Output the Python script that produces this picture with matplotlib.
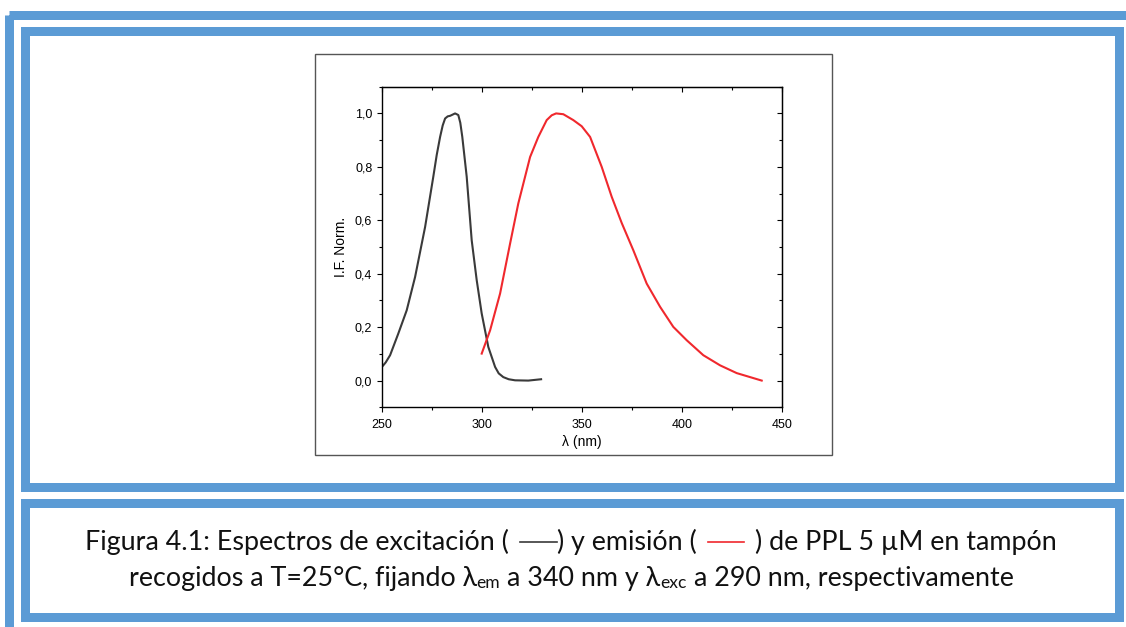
import matplotlib
matplotlib.use('Agg')
import matplotlib.pyplot as plt
from matplotlib import ticker
from matplotlib.patches import Rectangle

# espectro de excitación (negro)
exc_nm = [250, 252, 254.2, 258.3, 262.5, 266.7, 271.7, 275.8, 277.5, 279.2, 280.5,
          281.7, 283, 284.2, 286.7, 288.3, 289.3, 290.3, 292.5, 295, 297.5, 300,
          303.3, 306.7, 308.5, 310.8, 313.5, 316.7, 323.3, 329.7]
exc_if = [0.05, 0.068, 0.095, 0.176, 0.263, 0.388, 0.575, 0.763, 0.844, 0.912, 0.955,
          0.981, 0.989, 0.991, 1.0, 0.994, 0.965, 0.912, 0.763, 0.525, 0.376, 0.251,
          0.126, 0.051, 0.027, 0.013, 0.005, 0.001, 0.0, 0.005]
# espectro de emisión (rojo)
emi_nm = [300, 304.2, 309.2, 314.2, 318.3, 324.2, 328.3, 332.5, 335, 337.2,
          340.8, 345.8, 350, 354.2, 360, 365, 370, 375.8, 382.5, 389.2,
          395.8, 402.5, 410.8, 419.2, 427.5, 440]
emi_if = [0.101, 0.188, 0.326, 0.513, 0.663, 0.837, 0.912, 0.975, 0.993, 1.0,
          0.997, 0.975, 0.952, 0.912, 0.8, 0.688, 0.59, 0.488, 0.363, 0.276,
          0.201, 0.151, 0.095, 0.057, 0.028, 0.0]

x_label = 'λ (nm)'
y_label = 'I.F. Norm.'
cap_font = ['Lato', 'DejaVu Sans']
blue = '#5B9BD5'
black_c = '#3a3a3a'
red_c = '#f0282d'

fig = plt.figure(figsize=(11.26, 6.27), dpi=100)

# fondo con los marcos azules (coordenadas en píxeles)
bg = fig.add_axes([0, 0, 1, 1])
bg.set_xlim(0, 1126)
bg.set_ylim(627, 0)
bg.axis('off')
blw = 9 * 72 / 100
bg.add_patch(Rectangle((8.5, 14.5), 1140, 640, fill=False, ec=blue, lw=blw, joinstyle='miter'))
bg.add_patch(Rectangle((24.5, 30.5), 1094, 456, fill=False, ec=blue, lw=blw, joinstyle='miter'))
bg.add_patch(Rectangle((24.5, 502.5), 1094, 114, fill=False, ec=blue, lw=blw, joinstyle='miter'))
bg.add_patch(Rectangle((315, 54), 517, 401, fill=False, ec='#555555', lw=1.0))

# gráfico
ax = fig.add_axes([381.7 / 1126, 1 - 407.3 / 627, 400 / 1126, 320.6 / 627])
ax.plot(exc_nm, exc_if, color=black_c, lw=1.5)
ax.plot(emi_nm, emi_if, color=red_c, lw=1.5)
ax.set_xlim(250, 450)
ax.set_ylim(-0.1, 1.1)
ax.xaxis.set_major_locator(ticker.MultipleLocator(50))
ax.xaxis.set_minor_locator(ticker.MultipleLocator(25))
ax.yaxis.set_major_locator(ticker.MultipleLocator(0.2))
ax.yaxis.set_minor_locator(ticker.MultipleLocator(0.1))
ax.yaxis.set_major_formatter(ticker.FuncFormatter(lambda v, p: f'{v:.1f}'.replace('.', ',')))
for s in ax.spines.values():
    s.set_linewidth(1.0)
ax.tick_params(which='major', length=3.8, width=0.8, labelsize=9, direction='out')
ax.tick_params(which='minor', length=2.2, width=0.8, direction='out')
ax.tick_params(axis='x', pad=4.5)
ax.tick_params(axis='y', pad=3)
for lab in ax.get_xticklabels() + ax.get_yticklabels():
    lab.set_family('Liberation Sans')
ax.set_xlabel(x_label, fontsize=10, family='Liberation Sans', labelpad=3)
ax.set_ylabel(y_label, fontsize=10, family='Liberation Sans', labelpad=5)

top = ax.secondary_xaxis('top')
top.xaxis.set_major_locator(ticker.MultipleLocator(50))
top.xaxis.set_minor_locator(ticker.MultipleLocator(25))
top.tick_params(which='major', length=3.8, width=0.8, direction='in', labeltop=False)
top.tick_params(which='minor', length=2.2, width=0.8, direction='in')
right = ax.secondary_yaxis('right')
right.yaxis.set_major_locator(ticker.MultipleLocator(0.2))
right.yaxis.set_minor_locator(ticker.MultipleLocator(0.1))
right.tick_params(which='major', length=3.8, width=0.8, direction='in', labelright=False)
right.tick_params(which='minor', length=2.2, width=0.8, direction='in')

# pie de figura
line1 = [('t', 'Figura 4.1: Espectros de excitación ('), ('sp', 1.6), ('ln', black_c), ('t', ')'),
         ('sp', 1), ('t', 'y emisión ('), ('sp', 1.6), ('ln', red_c), ('sp', 1.6),
         ('t', ') de PPL 5 µM en tampón')]
line2 = [('t', 'recogidos a T=25°C, fijando λ'), ('sub', 'em'), ('sp', 1),
         ('t', 'a 340 nm y λ'), ('sub', 'exc'), ('sp', 1), ('t', 'a 290 nm, respectivamente')]

renderer = fig.canvas.get_renderer()


def text_w(s, size):
    t = bg.text(0, 0, s, fontsize=size, family=cap_font)
    w = t.get_window_extent(renderer).width
    t.remove()
    return w


def run_widths(runs, size):
    sp = text_w('a a', size) - text_w('aa', size)
    out = []
    for kind, val in runs:
        if kind == 't':
            out.append(text_w(val, size))
        elif kind == 'sub':
            out.append(text_w(val, size * 0.65))
        elif kind == 'sp':
            out.append(sp * val)
        else:
            out.append(size * 1.9)
    return out


def draw_runs(runs, size, xc, yb):
    ws = run_widths(runs, size)
    x = xc - sum(ws) / 2
    for (kind, val), w in zip(runs, ws):
        if kind == 't':
            bg.text(x, yb, val, fontsize=size, family=cap_font, va='baseline', color='#111111')
        elif kind == 'sub':
            bg.text(x, yb + 2, val, fontsize=size * 0.65, family=cap_font, va='baseline', color='#111111')
        elif kind == 'ln':
            bg.plot([x, x + w], [yb - 8, yb - 8], color=val, lw=1.2)
        x += w


s0 = 18
cap_size = s0 * 969 / sum(run_widths(line1, s0))
draw_runs(line1, cap_size, 571, 550)
draw_runs(line2, cap_size, 571, 586)

fig.savefig('out.png', dpi=100)
